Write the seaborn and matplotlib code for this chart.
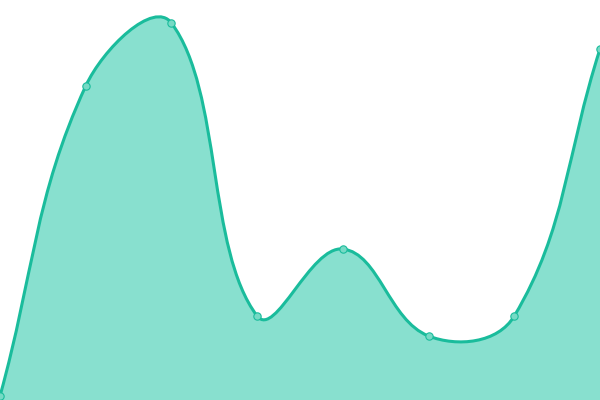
import numpy as np
import seaborn as sns
import matplotlib
matplotlib.use("Agg")
import matplotlib.pyplot as plt
from matplotlib.path import Path
from matplotlib.patches import PathPatch

# data
x_vals = [0, 1, 2, 3, 4, 5, 6, 7]
y_vals = [4, 314, 377, 84, 151, 64, 84, 351]

LINE = "#1abc9c"
FILL = "#88e0cf"
DOT = "#76dac5"
TENSION = 0.4


def spline_controls(pts, t=TENSION):
    # chart.js style spline control points, computed in pixel space
    n = len(pts)
    ctrl = []
    for i in range(n):
        p0 = pts[max(i - 1, 0)]
        p1 = pts[i]
        p2 = pts[min(i + 1, n - 1)]
        d01 = np.hypot(*(p1 - p0))
        d12 = np.hypot(*(p2 - p1))
        s01 = d01 / (d01 + d12) if d01 + d12 else 0
        s12 = d12 / (d01 + d12) if d01 + d12 else 0
        fa, fb = t * s01, t * s12
        prev = p1 - fa * (p2 - p0)
        nxt = p1 + fb * (p2 - p0)
        ctrl.append((prev, nxt))
    return ctrl


sns.set_style("white")
fig = plt.figure(figsize=(6, 4), dpi=100)
ax = fig.add_axes([0, 0, 1, 1])
ax.set_xlim(0, 7)
ax.set_ylim(0, 400)
ax.axis("off")

pts = ax.transData.transform(np.column_stack([x_vals, y_vals]))
ctrl = spline_controls(pts)
verts = [pts[0]]
codes = [Path.MOVETO]
for i in range(len(pts) - 1):
    verts += [ctrl[i][1], ctrl[i + 1][0], pts[i + 1]]
    codes += [Path.CURVE4] * 3
inv = ax.transData.inverted()
verts = inv.transform(np.array(verts))

line_path = Path(verts, codes)
fill_verts = np.vstack([verts, [[x_vals[-1], 0], [x_vals[0], 0], verts[0]]])
fill_codes = codes + [Path.LINETO, Path.LINETO, Path.CLOSEPOLY]
fill_path = Path(fill_verts, fill_codes)

ax.add_patch(PathPatch(fill_path, facecolor=FILL, edgecolor="none", zorder=1))
ax.add_patch(PathPatch(line_path, facecolor="none", edgecolor=LINE, lw=2.2, zorder=2))

sns.scatterplot(x=x_vals, y=y_vals, ax=ax, s=28, color=DOT, edgecolor=LINE,
                linewidth=0.8, zorder=3, legend=False)

fig.savefig("out.png", dpi=100)
